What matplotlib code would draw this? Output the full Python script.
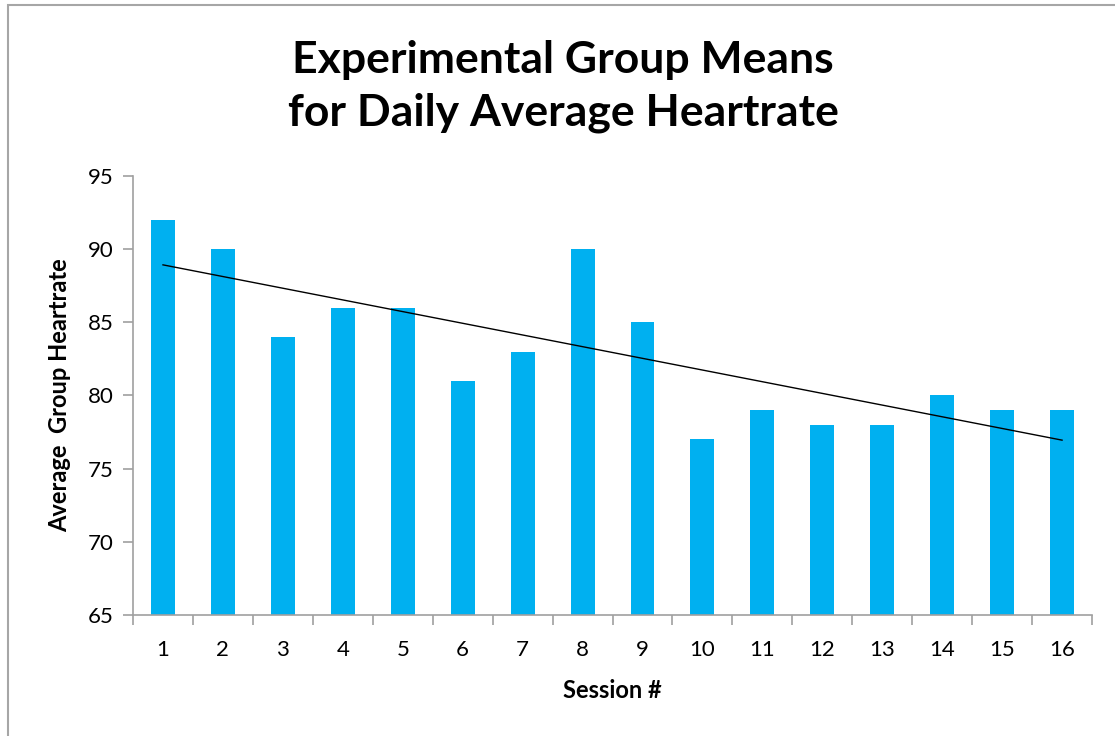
import numpy as np
import matplotlib
matplotlib.use('Agg')
import matplotlib.pyplot as plt
from matplotlib.patches import Rectangle

# Session means
sessions = [str(i) for i in range(1, 17)]
heartrate = [92, 90, 84, 86, 86, 81, 83, 90, 85, 77, 79, 78, 78, 80, 79, 79]

plt.rcParams['font.family'] = ['Lato', 'DejaVu Sans']

fig = plt.figure(figsize=(11.15, 7.36), dpi=100)
ax = fig.add_axes([0.1193, 0.1644, 0.9794 - 0.1193, 0.7609 - 0.1644])

x = np.arange(1, len(heartrate) + 1)
ax.bar(x, heartrate, width=0.4, color='#00B0F0', zorder=2)

# linear trendline
coef = np.polyfit(x, heartrate, 1)
ax.plot(x, np.polyval(coef, x), color='black', linewidth=1, zorder=3)

ax.set_xlim(0.5, 16.5)
ax.set_ylim(65, 95)
ax.set_yticks(range(65, 96, 5))
ax.set_xticks(x)
ax.set_xticklabels(sessions)
ax.set_xticks(np.arange(0.5, 17, 1), minor=True)

axis_gray = '#A0A0A0'
for s in ['top', 'right']:
    ax.spines[s].set_visible(False)
for s in ['left', 'bottom']:
    ax.spines[s].set_color(axis_gray)
    ax.spines[s].set_linewidth(1.2)

ax.tick_params(axis='y', direction='out', length=7, width=1.2, color=axis_gray,
               labelsize=16, pad=7)
ax.tick_params(axis='x', which='major', length=0, labelsize=16, pad=18)
ax.tick_params(axis='x', which='minor', direction='out', length=7, width=1.2,
               color=axis_gray)

ax.set_xlabel('Session #', fontsize=17, fontweight='bold', labelpad=14)
ax.set_ylabel('Average  Group Heartrate', fontsize=17, fontweight='bold', labelpad=12)

fig.text(0.505, 0.882, 'Experimental Group Means\nfor Daily Average Heartrate',
         ha='center', va='center', fontsize=32, fontweight='bold',
         linespacing=1.37)

# chart area border
fig.add_artist(Rectangle((8 / 1115, -0.05), 1.2, (736 - 5) / 736 + 0.05,
                         transform=fig.transFigure, fill=False,
                         edgecolor='#A6A6A6', linewidth=1.5))

fig.savefig('out.png', dpi=100)
